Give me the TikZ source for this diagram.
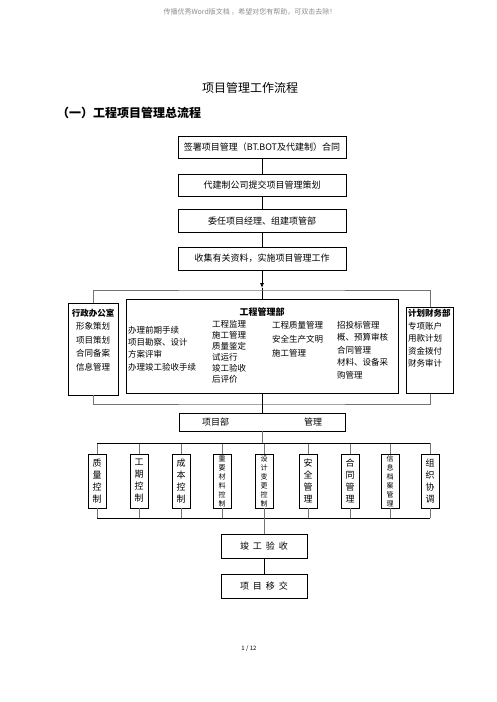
\documentclass[tikz,border=0pt]{standalone}
\usepackage{fontspec}
\usetikzlibrary{arrows.meta}
\newfontfamily\cjk{Noto Sans CJK SC}

\begin{document}
\begin{tikzpicture}[x=1pt,y=-1pt,
  box/.style={draw,line width=0.8pt,inner sep=0pt,font=\cjk\fontsize{9}{11}\selectfont},
  qbox/.style={draw,line width=0.8pt,minimum width=18pt,minimum height=54pt,inner sep=0pt,align=center,font=\cjk\fontsize{9}{12}\selectfont},
  sbox/.style={qbox,font=\cjk\fontsize{7}{9}\selectfont},
  txt/.style={anchor=north west,inner sep=0pt,align=left,font=\cjk\fontsize{8.5}{#1}\selectfont},
  line/.style={line width=0.8pt},
  gline/.style={line width=0.8pt,black!55}]
\useasboundingbox (0,0) rectangle (496,702);

\node[inner sep=0pt,black!45,font=\cjk\fontsize{7}{8}\selectfont] (note) at (250,12) {传播优秀Word版文档 ，希望对您有帮助，可双击去除！};
\node[inner sep=0pt,font=\cjk\fontsize{12}{14}\selectfont] (title) at (250,88) {项目管理工作流程};
\node[anchor=west,inner sep=0pt,font=\cjk\bfseries\fontsize{12}{14}\selectfont] (sub) at (57,113) {（一）工程项目管理总流程};

% main steps
\node[box,minimum width=168pt,minimum height=22pt] (b1) at (262,147.5) {签署项目管理（BT.BOT及代建制）合同};
\node[box,minimum width=168pt,minimum height=22pt] (b2) at (262,185) {代建制公司提交项目管理策划};
\node[box,minimum width=168pt,minimum height=23pt] (b3) at (262,221) {委任项目经理、组建项管部};
\node[box,minimum width=168pt,minimum height=23pt] (b4) at (262,258.5) {收集有关资料，实施项目管理工作};
\draw[line] (b1) -- (b2);
\draw[line] (b2) -- (b3);
\draw[line] (b3) -- (b4);

% departments
\node[box,minimum width=50pt,minimum height=92pt] (xz) at (93,349) {};
\node[box,minimum width=272pt,minimum height=94pt] (gc) at (262,346) {};
\node[box,minimum width=47pt,minimum height=86pt] (cw) at (430,350.5) {};

\node[anchor=north,inner sep=0pt,align=center,font=\cjk\fontsize{8.5}{13.5}\selectfont] (xzt) at (93,308.5) {{\bfseries 行政办公室}\\形象策划\\项目策划\\合同备案\\信息管理};
\node[inner sep=0pt,font=\cjk\bfseries\fontsize{9}{11}\selectfont] (gct) at (262,312) {工程管理部};
\node[txt=12.3] (gc1) at (128,326) {办理前期手续\\项目勘察、设计\\方案评审\\办理竣工验收手续};
\node[txt=11.1] (gc2) at (212,320) {工程监理\\施工管理\\质量鉴定\\试运行\\竣工验收\\后评价};
\node[txt=14] (gc3) at (272,321) {工程质量管理\\安全生产文明\\施工管理};
\node[txt=12.5] (gc4) at (337,321) {招投标管理\\概、预算审核\\合同管理\\材料、设备采\\购管理};
\node[txt=12.5] (cwt) at (408,309) {{\bfseries 计划财务部}\\专项账户\\用款计划\\资金拨付\\财务审计};

\coordinate (arr) at (262,288);
\coordinate (ua) at (262,290);
\coordinate (la) at (262,404);
\draw[line,-{Latex[length=5pt,width=4pt]}] (b4.south) -- (arr);
\draw[line] (arr) -- (gc.north);
\draw[gline] (xz.north) |- (ua) -| (cw.north);
\draw[gline] (xz.south) |- (la) -| (cw.south);

\node[box,minimum width=166pt,minimum height=18pt] (pm) at (262,422) {项目部\hspace{75pt}管理};
\draw[line] (gc.south) -- (pm.north);

% control items
\coordinate (tbar) at (262,443);
\coordinate (bbar) at (264,518);
\foreach \i/\x/\t/\s in {1/97/{质\\量\\控\\制}/qbox,2/139/{工\\期\\控\\制}/qbox,3/181/{成\\本\\控\\制}/qbox,
  4/222/{重\\要\\材\\料\\控\\制}/sbox,5/264/{设\\计\\变\\更\\控\\制}/sbox,6/308/{安\\全\\管\\理}/qbox,
  7/350/{合\\同\\管\\理}/qbox,8/390/{信\\息\\档\\案\\管\\理}/sbox,9/430/{组\\织\\协\\调}/qbox}{
  \node[\s] (q\i) at (\x,481) {\t};
  \draw[gline] (q\i.north) -- (q\i.north |- tbar);
  \draw[gline] (q\i.south) -- (q\i.south |- bbar);
}
\draw[line] (q1.north |- tbar) -- (q9.north |- tbar);
\draw[line] (q1.south |- bbar) -- (q9.south |- bbar);
\draw[gline] (pm.south) -- (tbar);

\node[box,minimum width=86pt,minimum height=24pt] (ys) at (264,546) {竣\hspace{4pt}工\hspace{4pt}验\hspace{4pt}收};
\node[box,minimum width=86pt,minimum height=24pt] (yj) at (264,586) {项\hspace{4pt}目\hspace{4pt}移\hspace{4pt}交};
\draw[gline] (bbar) -- (ys.north);
\draw[line] (ys) -- (yj);

\node[inner sep=0pt,font=\cjk\fontsize{6}{7}\selectfont] (pg) at (249,649) {1 / 12};
\end{tikzpicture}
\end{document}
